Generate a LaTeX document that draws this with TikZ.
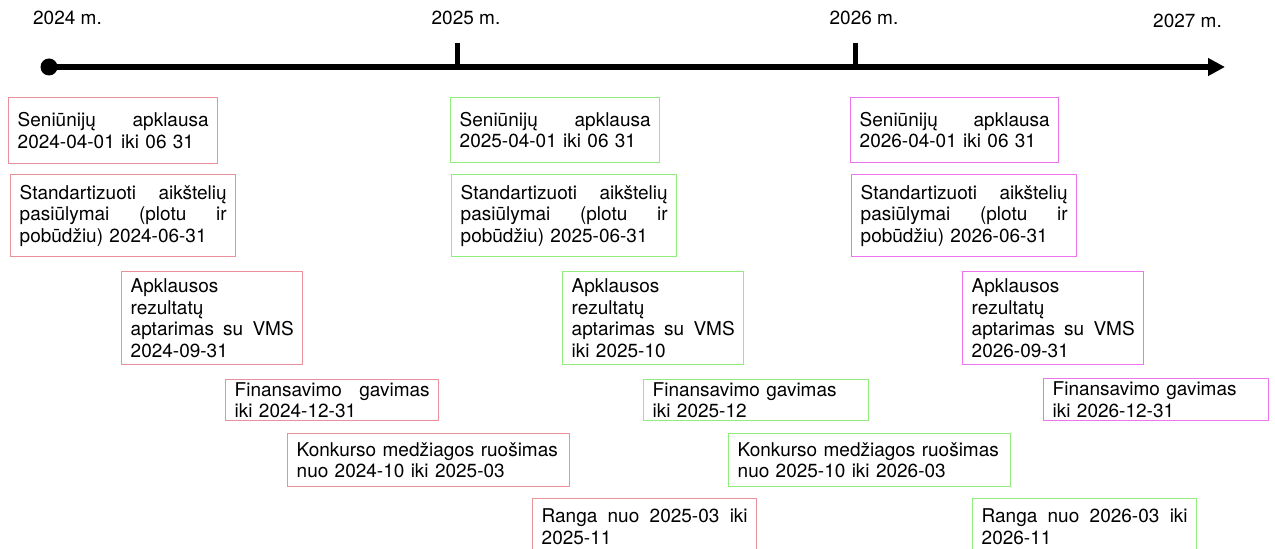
\documentclass[tikz,border=0pt]{standalone}
\usepackage{fontspec}
\setmainfont{TeX Gyre Heros}
\usetikzlibrary{arrows.meta}
\definecolor{rline}{RGB}{232,145,155}
\definecolor{gline}{RGB}{145,238,125}
\definecolor{mline}{RGB}{238,115,238}
\newcommand{\boxfont}{\fontsize{9.5}{10.8}\selectfont}

\begin{document}
\begin{tikzpicture}[x=0.5pt,y=-0.5pt,
  task/.style={draw,line width=0.7pt,anchor=north west,align=left,
    inner xsep=4.5pt,inner ysep=0pt,font=\boxfont},
  rbox/.style={task,draw=rline},
  gbox/.style={task,draw=gline},
  mbox/.style={task,draw=mline},
  year/.style={anchor=base,font=\boxfont}]
\useasboundingbox (0,0) rectangle (1275,549);
\clip (0,0) rectangle (1275,549);

%laiko asis
\coordinate (start) at (49,67);
\coordinate (end) at (1225,67);
\draw[line width=2.6pt,-{Triangle[length=8.5pt,width=8.5pt]}] (start) -- (end);
\fill (start) circle [radius=4.25pt];
%padalos
\foreach \x in {457,855}
{
\draw[line width=2.5pt] (\x,67) -- (\x,43);
}
\node[year] (y24) at (67.5,25) {2024 m.};
\node[year] (y25) at (466,25) {2025 m.};
\node[year] (y26) at (864,25) {2026 m.};
\node[year] (y27) at (1187.5,28) {2027 m.};

%2024
\node[rbox,text width=95.5pt,minimum height=33pt] (sen24) at (8,97)
  {Seniūnijų\hfill apklausa\\2024-04-01 iki 06 31};
\node[rbox,text width=103.5pt,minimum height=41pt] (std24) at (10,174)
  {Standartizuoti\hfill aikštelių\\pasiūlymai\hfill (plotu\hfill ir\\pobūdžiu) 2024-06-31};
\node[rbox,text width=81.5pt,minimum height=46.5pt] (apk24) at (121,271)
  {Apklausos\\rezultatų\\aptarimas\hfill su\hfill VMS\\2024-09-31};
\node[rbox,text width=97.5pt,minimum height=20.5pt] (fin24) at (225,379)
  {Finansavimo\hfill gavimas\\iki 2024-12-31};
\node[rbox,text width=132pt,minimum height=26.5pt] (konk24) at (287,433)
  {Konkurso medžiagos ruošimas\\nuo 2024-10 iki 2025-03};
\node[rbox,text width=103pt,minimum height=28pt] (rng24) at (532,498)
  {Ranga\hfill nuo\hfill 2025-03\hfill iki\\2025-11};

%2025
\node[gbox,text width=95.5pt,minimum height=32.5pt] (sen25) at (450,97)
  {Seniūnijų\hfill apklausa\\2025-04-01 iki 06 31};
\node[gbox,text width=103.5pt,minimum height=41pt] (std25) at (451,174)
  {Standartizuoti\hfill aikštelių\\pasiūlymai\hfill (plotu\hfill ir\\pobūdžiu) 2025-06-31};
\node[gbox,text width=81.5pt,minimum height=46.5pt] (apk25) at (562,271)
  {Apklausos\\rezultatų\\aptarimas\hfill su\hfill VMS\\iki 2025-10};
\node[gbox,text width=103.5pt,minimum height=20.5pt] (fin25) at (643,379)
  {Finansavimo gavimas\\iki 2025-12};
\node[gbox,text width=132pt,minimum height=26.5pt] (konk25) at (728,433)
  {Konkurso medžiagos ruošimas\\nuo 2025-10 iki 2026-03};
\node[gbox,text width=103pt,minimum height=28pt] (rng25) at (972,498)
  {Ranga\hfill nuo\hfill 2026-03\hfill iki\\2026-11};

%2026
\node[mbox,text width=95pt,minimum height=32.5pt] (sen26) at (850,97)
  {Seniūnijų\hfill apklausa\\2026-04-01 iki 06 31};
\node[mbox,text width=103.5pt,minimum height=41pt] (std26) at (851,174)
  {Standartizuoti\hfill aikštelių\\pasiūlymai\hfill (plotu\hfill ir\\pobūdžiu) 2026-06-31};
\node[mbox,text width=81.5pt,minimum height=46.5pt] (apk26) at (962,271)
  {Apklausos\\rezultatų\\aptarimas\hfill su\hfill VMS\\2026-09-31};
\node[mbox,text width=103.5pt,minimum height=21pt] (fin26) at (1043,378)
  {Finansavimo gavimas\\iki 2026-12-31};
\end{tikzpicture}
\end{document}
